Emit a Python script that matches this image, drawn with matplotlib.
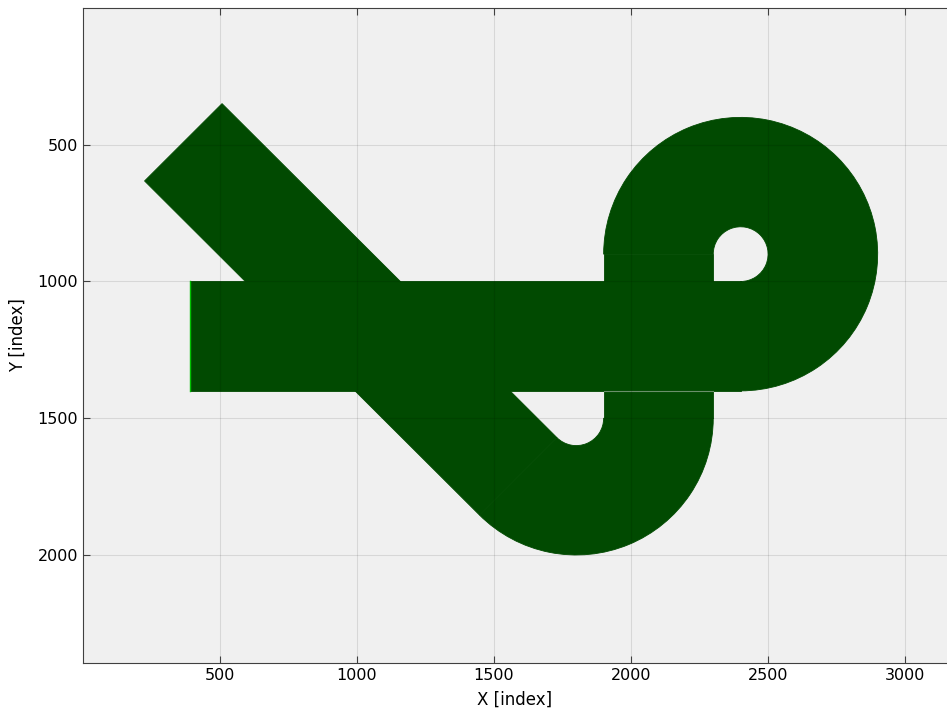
import matplotlib.pyplot as plt
from matplotlib.patches import Polygon, Rectangle, Wedge
import numpy as np

# Geometrie de la piste (en index de pixels)
track_color = '#014a01'
r_inner = 100
r_outer = 500

u_center = (1800, 1500)      # virage en U du bas
loop_center = (2400, 900)    # boucle du haut
diag_start = (366, 491)      # debut (axe) de la branche diagonale

straight_x = [390, 2400]     # bande horizontale
straight_y = [1000, 1400]
riser_x = [1900, 2300]       # montee verticale
riser_y = [900, 1500]

x_ticks = [500, 1000, 1500, 2000, 2500, 3000]
y_ticks = [500, 1000, 1500, 2000]

fig = plt.figure(figsize=(9.47, 7.25), dpi=100)
ax = fig.add_axes([83 / 947, 1 - 663 / 725, 1 - 83 / 947, 655 / 725])
ax.set_facecolor('#f0f0f0')

style = dict(fc=track_color, ec=track_color, lw=0.6)

# Branche diagonale tangente au virage en U
half = (r_outer - r_inner) / 2
r_mid = (r_outer + r_inner) / 2
n = np.array([1, -1]) / np.sqrt(2)
tan_pt = np.array(u_center) - r_mid * n
start = np.array(diag_start)
diag = [start + half * n, tan_pt + half * n, tan_pt - half * n, start - half * n]
ax.add_patch(Polygon(diag, closed=True, **style))

# Virage en U et boucle
ax.add_patch(Wedge(u_center, r_outer, 0, 135, width=r_outer - r_inner, **style))
ax.add_patch(Wedge(loop_center, r_outer, 180, 450, width=r_outer - r_inner, **style))

# Bandes droites
ax.add_patch(Rectangle((straight_x[0], straight_y[0]), straight_x[1] - straight_x[0],
                       straight_y[1] - straight_y[0], **style))
ax.add_patch(Rectangle((riser_x[0], riser_y[0]), riser_x[1] - riser_x[0],
                       riser_y[1] - riser_y[0], **style))
ax.plot([straight_x[0], straight_x[0]], straight_y, color='#00c000', lw=1)
ax.plot(riser_x, [straight_y[1], straight_y[1]], color='#6a8f6a', lw=0.8)

ax.set_xlim(0, 3153)
ax.set_ylim(2395, 0)
ax.set_xticks(x_ticks)
ax.set_yticks(y_ticks)
ax.grid(True, color='black', alpha=0.1, lw=0.8)
ax.set_axisbelow(False)
ax.tick_params(direction='in', top=True, right=False, length=5,
               labelsize=11.5, colors='#404040', labelcolor='black')
for s in ['left', 'bottom', 'top']:
    ax.spines[s].set_color('#404040')
ax.spines['right'].set_visible(False)

ax.set_xlabel('X [index]', fontsize=12, labelpad=6)
ax.set_ylabel('Y [index]', fontsize=12, labelpad=8)

plt.savefig('out.png', dpi=100)
